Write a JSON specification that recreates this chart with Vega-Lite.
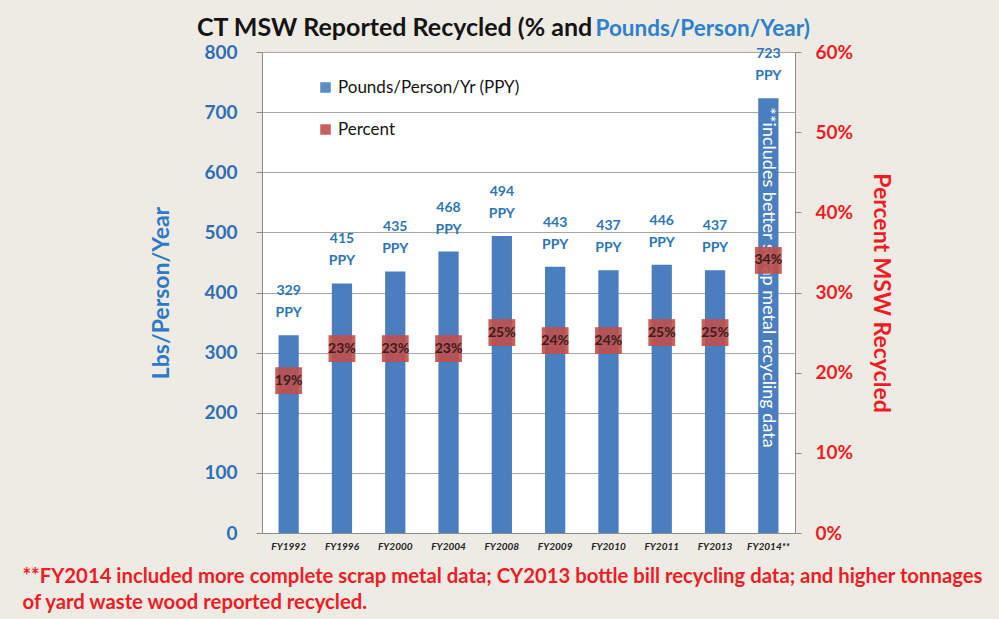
{
  "$schema": "https://vega.github.io/schema/vega-lite/v6.json",
  "width": 533,
  "height": 481,
  "autosize": {"type": "none"},
  "padding": {"left": 262, "top": 52, "right": 204, "bottom": 86},
  "background": "#eeebe4",
  "config": {"view": {"fill": "white", "stroke": null}, "font": "Lato"},
  "title": {
    "text": "CT MSW Reported Recycled (% and",
    "anchor": "start",
    "frame": "group",
    "dx": -65,
    "fontSize": 25,
    "fontWeight": "bold",
    "color": "#141414",
    "font": "Lato",
    "baseline": "alphabetic",
    "offset": -44
  },
  "data": {
    "values": [
      {"year": "FY1992", "ppy": 329, "pct": 0.19, "note": ""},
      {"year": "FY1996", "ppy": 415, "pct": 0.23, "note": ""},
      {"year": "FY2000", "ppy": 435, "pct": 0.23, "note": ""},
      {"year": "FY2004", "ppy": 468, "pct": 0.23, "note": ""},
      {"year": "FY2008", "ppy": 494, "pct": 0.25, "note": ""},
      {"year": "FY2009", "ppy": 443, "pct": 0.24, "note": ""},
      {"year": "FY2010", "ppy": 437, "pct": 0.24, "note": ""},
      {"year": "FY2011", "ppy": 446, "pct": 0.25, "note": ""},
      {"year": "FY2013", "ppy": 437, "pct": 0.25, "note": ""},
      {"year": "FY2014**", "ppy": 723, "pct": 0.34, "note": "**includes better scrap metal recycling data"}
    ]
  },
  "layer": [
    {
      "layer": [
        {
          "mark": {"type": "bar"},
          "encoding": {
            "x": {
              "field": "year", "type": "nominal", "sort": null,
              "scale": {"paddingInner": 0.62, "paddingOuter": 0.31},
              "axis": {
                "orient": "bottom",
                "labelAngle": 0,
                "labelFontSize": 10,
                "labelFontStyle": "italic",
                "labelFontWeight": "bold",
                "labelColor": "#222",
                "labelPadding": 8,
                "ticks": false,
                "domainColor": "#8c8c8c",
                "title": ["**FY2014 included more complete scrap metal data; CY2013 bottle bill recycling data; and higher tonnages", "of yard waste wood reported recycled."],
                "titleColor": "#ee1c25",
                "titleFontSize": 20.3,
                "titleFontWeight": "bold",
                "titleAlign": "left",
                "titleAnchor": null,
                "titleBaseline": "top",
                "titleX": -240,
                "titleY": 33,
                "titleLineHeight": 26
              }
            },
            "y": {
              "field": "ppy", "type": "quantitative",
              "scale": {"domain": [0, 800], "nice": false},
              "axis": {
                "orient": "left",
                "values": [0, 100, 200, 300, 400, 500, 600, 700, 800],
                "title": "Lbs/Person/Year",
                "titleColor": "#2f78c4",
                "titleFontSize": 23,
                "titleFontWeight": "bold",
                "titlePadding": 30,
                "labelColor": "#2f6eb5",
                "labelFontSize": 19,
                "labelFontWeight": "bold",
                "labelPadding": 19,
                "tickSize": 6,
                "tickColor": "#8c8c8c",
                "domainColor": "#8c8c8c",
                "grid": true,
                "gridColor": "#a6a6a6"
              }
            },
            "color": {
              "datum": "Pounds/Person/Yr (PPY)",
              "type": "nominal",
              "scale": {"domain": ["Pounds/Person/Yr (PPY)", "Percent"], "range": ["#4a7ebf", "#c0504d"]},
              "legend": {
                "orient": "none",
                "legendX": 55,
                "legendY": 27,
                "title": null,
                "symbolType": "square",
                "symbolSize": 110,
                "labelFontSize": 17,
                "labelColor": "#141414",
                "labelFont": "Lato",
                "labelLimit": 400,
                "rowPadding": 24,
                "padding": 0
              }
            }
          }
        },
        {
          "mark": {"type": "text", "fontSize": 14, "fontWeight": "bold", "color": "#2e75b6", "baseline": "middle", "dy": -44},
          "encoding": {
            "x": {"field": "year", "type": "nominal", "sort": null},
            "y": {"field": "ppy", "type": "quantitative"},
            "text": {"field": "ppy", "type": "quantitative"}
          }
        },
        {
          "mark": {"type": "text", "fontSize": 14, "fontWeight": "bold", "color": "#2e75b6", "baseline": "middle", "dy": -22},
          "encoding": {
            "x": {"field": "year", "type": "nominal", "sort": null},
            "y": {"field": "ppy", "type": "quantitative"},
            "text": {"value": "PPY"}
          }
        },
        {
          "mark": {"type": "text", "fontSize": 18, "color": "white", "angle": 90, "align": "left", "baseline": "middle", "dx": 9},
          "encoding": {
            "x": {"field": "year", "type": "nominal", "sort": null},
            "y": {"field": "ppy", "type": "quantitative"},
            "text": {"field": "note", "type": "nominal"}
          }
        }
      ]
    },
    {
      "layer": [
        {
          "mark": {"type": "point", "shape": "square", "filled": true, "size": 720, "opacity": 0.9},
          "encoding": {
            "x": {
              "field": "year", "type": "nominal", "sort": null,
              "axis": {
                "orient": "top",
                "labels": false,
                "ticks": false,
                "domain": false,
                "title": "Pounds/Person/Year)",
                "titleColor": "#2f80cc",
                "titleFontSize": 22.5,
                "titleFontWeight": "bold",
                "titleAlign": "left",
                "titleAnchor": null,
                "titleBaseline": "alphabetic",
                "titleX": 333,
                "titleY": -17
              }
            },
            "y": {
              "field": "pct", "type": "quantitative",
              "scale": {"domain": [0, 0.6], "nice": false},
              "axis": {
                "orient": "right",
                "format": ".0%",
                "values": [0, 0.1, 0.2, 0.3, 0.4, 0.5, 0.6],
                "grid": false,
                "title": "Percent MSW Recycled",
                "titleColor": "#ee1c25",
                "titleFontSize": 23,
                "titleFontWeight": "bold",
                "titlePadding": 16,
                "labelColor": "#ee1c25",
                "labelFontSize": 19,
                "labelFontWeight": "bold",
                "labelPadding": 14,
                "tickSize": 6,
                "tickColor": "#8c8c8c",
                "domainColor": "#8c8c8c"
              }
            },
            "color": {"datum": "Percent", "type": "nominal"}
          }
        },
        {
          "mark": {"type": "text", "fontSize": 14, "fontWeight": "bold", "color": "#3b1c1c", "baseline": "middle"},
          "encoding": {
            "x": {"field": "year", "type": "nominal", "sort": null},
            "y": {"field": "pct", "type": "quantitative"},
            "text": {"field": "pct", "type": "quantitative", "format": ".0%"}
          }
        }
      ]
    }
  ],
  "resolve": {"scale": {"y": "independent"}, "axis": {"x": "independent"}}
}
